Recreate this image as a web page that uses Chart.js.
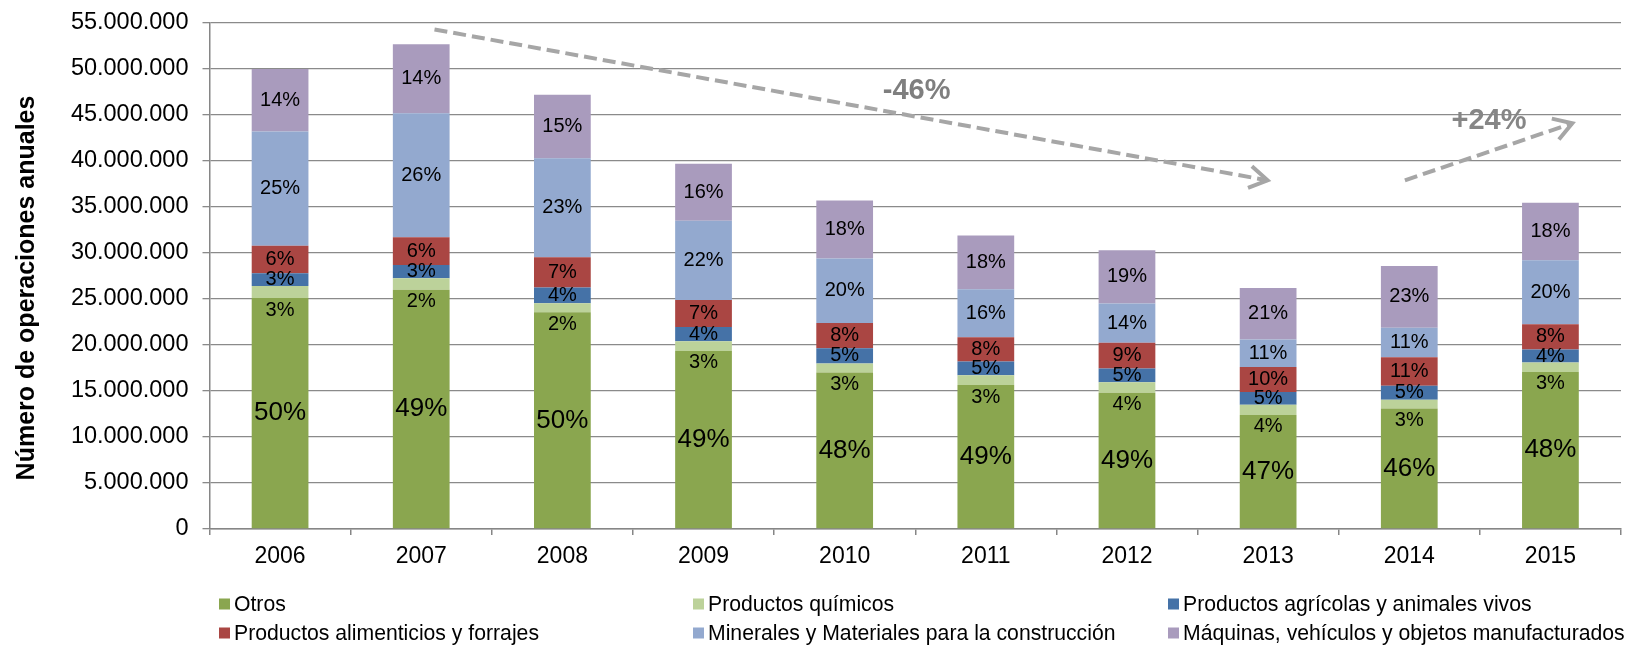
<!DOCTYPE html>
<html lang="es">
<head>
<meta charset="utf-8">
<title>Operaciones anuales por tipo de mercancía</title>
<script src="https://cdn.jsdelivr.net/npm/chart.js@4.4.1/dist/chart.umd.min.js"></script>
<style>
  html, body { margin: 0; padding: 0; background: #fff; }
  #wrap { position: relative; width: 1637px; height: 645px; }
</style>
</head>
<body>
<div id="wrap"><canvas id="operacionesChart"></canvas></div>
<script>
// Operaciones anuales por grupo de mercancía (número de operaciones)
const years = ['2006', '2007', '2008', '2009', '2010', '2011', '2012', '2013', '2014', '2015'];

const otros        = [25100000, 26000000, 23550000, 19350000, 17000000, 15650000, 14800000, 12400000, 13100000, 17070000];
const quimicos     = [ 1300000,  1250000,  1000000,  1050000,  1000000,  1050000,  1150000,  1100000,   950000,  1030000];
const agricolas    = [ 1400000,  1450000,  1700000,  1550000,  1650000,  1500000,  1500000,  1400000,  1530000,  1400000];
const alimenticios = [ 3000000,  3000000,  3300000,  2950000,  2750000,  2650000,  2800000,  2700000,  3100000,  2750000];
const minerales    = [12400000, 13500000, 10750000,  8600000,  7000000,  5200000,  4250000,  3000000,  3200000,  6950000];
const maquinas     = [ 6800000,  7500000,  6900000,  6200000,  6300000,  5850000,  5800000,  5600000,  6700000,  6250000];

const seriesNames = [
    'Otros',
    'Productos químicos',
    'Productos agrícolas y animales vivos',
    'Productos alimenticios y forrajes',
    'Minerales y Materiales para la construcción',
    'Máquinas, vehículos y objetos manufacturados'
];
const seriesColors = ['#8aa64f', '#bcd29a', '#4572a7', '#aa4643', '#93a9cf', '#a99bbd'];

const yMax = 55000000;
const yStep = 5000000;
const yTitle = 'Número de operaciones anuales';

// Flechas de tendencia (índice de año, valor)
const trendArrows = [
    { from: [1.094, 54300000], to: [6.996, 37900000] },
    { from: [7.969, 37900000], to: [9.155, 44100000] }
];
const trendNotes = [
    { text: '-46%', at: [4.51, 47600000], color: '#7f7f7f' },
    { text: '+24%', at: [8.565, 44400000], color: '#868686' }
];

const FONT = 'Arial, "Liberation Sans", sans-serif';
const seriesData = [otros, quimicos, agricolas, alimenticios, minerales, maquinas];
const totals = years.map((_, j) => seriesData.reduce((acc, s) => acc + s[j], 0));

function formatMiles(v) {
    return String(v).replace(/\B(?=(\d{3})+(?!\d))/g, '.');
}

// Porcentajes dentro de cada tramo de la barra
const percentLabels = {
    id: 'percentLabels',
    afterDatasetsDraw(chart) {
        const ctx = chart.ctx;
        ctx.save();
        ctx.textAlign = 'center';
        ctx.textBaseline = 'middle';
        ctx.fillStyle = '#000';
        chart.data.datasets.forEach((ds, i) => {
            const meta = chart.getDatasetMeta(i);
            meta.data.forEach((bar, j) => {
                const pct = Math.round(ds.data[j] / totals[j] * 100) + '%';
                let y = (bar.y + bar.base) / 2;
                ctx.font = (i === 0 ? '26px ' : '20px ') + FONT;
                // el tramo de químicos es estrecho: etiqueta justo debajo
                if (i === 1) y = bar.base + 12;
                ctx.fillText(pct, bar.x, y);
            });
        });
        ctx.restore();
    }
};

// Título del eje vertical, algo por debajo del centro
const axisTitle = {
    id: 'axisTitle',
    afterDraw(chart) {
        const ctx = chart.ctx;
        const area = chart.chartArea;
        ctx.save();
        ctx.translate(27, (area.top + area.bottom) / 2 + 12);
        ctx.rotate(-Math.PI / 2);
        ctx.font = 'bold 25px ' + FONT;
        ctx.fillStyle = '#000';
        ctx.textAlign = 'center';
        ctx.textBaseline = 'middle';
        ctx.fillText(yTitle, 0, 0);
        ctx.restore();
    }
};

// Flechas discontinuas y variaciones
const trendOverlay = {
    id: 'trendOverlay',
    afterDraw(chart) {
        const { ctx, scales: { x, y } } = chart;
        ctx.save();
        ctx.strokeStyle = '#a6a6a6';
        ctx.lineWidth = 4;
        trendArrows.forEach(a => {
            const x1 = x.getPixelForValue(a.from[0]), y1 = y.getPixelForValue(a.from[1]);
            const x2 = x.getPixelForValue(a.to[0]), y2 = y.getPixelForValue(a.to[1]);
            ctx.setLineDash([13, 6]);
            ctx.beginPath();
            ctx.moveTo(x1, y1);
            ctx.lineTo(x2, y2);
            ctx.stroke();
            const ang = Math.atan2(y2 - y1, x2 - x1);
            const len = 21, spread = 0.55;
            ctx.setLineDash([]);
            ctx.beginPath();
            ctx.moveTo(x2 - len * Math.cos(ang - spread), y2 - len * Math.sin(ang - spread));
            ctx.lineTo(x2, y2);
            ctx.lineTo(x2 - len * Math.cos(ang + spread), y2 - len * Math.sin(ang + spread));
            ctx.stroke();
        });
        ctx.font = 'bold 29px ' + FONT;
        ctx.textAlign = 'center';
        ctx.textBaseline = 'middle';
        trendNotes.forEach(n => {
            ctx.fillStyle = n.color;
            ctx.fillText(n.text, x.getPixelForValue(n.at[0]), y.getPixelForValue(n.at[1]));
        });
        ctx.restore();
    }
};

// Leyenda en tres columnas bajo el eje
const gridLegend = {
    id: 'gridLegend',
    afterDraw(chart) {
        const ctx = chart.ctx;
        const cols = [219, 693, 1168];
        const rows = [604, 633];
        ctx.save();
        ctx.font = '21.2px ' + FONT;
        ctx.textBaseline = 'middle';
        ctx.textAlign = 'left';
        chart.data.datasets.forEach((ds, i) => {
            const cx = cols[i % 3];
            const cy = rows[Math.floor(i / 3)];
            ctx.fillStyle = ds.backgroundColor;
            ctx.fillRect(cx, cy - 5.5, 11, 11);
            ctx.fillStyle = '#000';
            ctx.fillText(ds.label, cx + 15, cy + 1);
        });
        ctx.restore();
    }
};

const ctx = document.getElementById('operacionesChart').getContext('2d');
new Chart(ctx, {
    type: 'bar',
    data: {
        labels: years,
        datasets: seriesData.map((d, i) => ({
            label: seriesNames[i],
            data: d,
            backgroundColor: seriesColors[i],
            borderWidth: 0,
            categoryPercentage: 1,
            barPercentage: 0.402
        }))
    },
    options: {
        responsive: true,
        maintainAspectRatio: false,
        animation: false,
        layout: { padding: { top: 23, right: 16, bottom: 0, left: 0 } },
        plugins: {
            legend: { display: false },
            tooltip: { enabled: false }
        },
        scales: {
            x: {
                stacked: true,
                grid: {
                    drawOnChartArea: false,
                    drawTicks: true,
                    tickLength: 6,
                    color: '#868686',
                    lineWidth: 1.5
                },
                border: { color: '#868686', width: 1.5 },
                ticks: {
                    color: '#000',
                    font: { family: FONT, size: 23 },
                    padding: 8,
                    maxRotation: 0
                },
                afterFit(scale) {
                    scale.height = 116;
                    scale.paddingLeft = 0;
                    scale.paddingRight = 0;
                }
            },
            y: {
                stacked: true,
                min: 0,
                max: yMax,
                grid: {
                    color: '#8a8a8a',
                    lineWidth: 1.3,
                    tickLength: 7
                },
                border: { color: '#868686', width: 1.5 },
                ticks: {
                    stepSize: yStep,
                    color: '#000',
                    padding: 14,
                    font: { family: FONT, size: 23.5 },
                    callback: v => formatMiles(v)
                },
                afterFit(scale) {
                    scale.width = 209.5;
                    scale.paddingTop = 0;
                    scale.paddingBottom = 0;
                }
            }
        }
    },
    plugins: [percentLabels, axisTitle, trendOverlay, gridLegend]
});
</script>
</body>
</html>
